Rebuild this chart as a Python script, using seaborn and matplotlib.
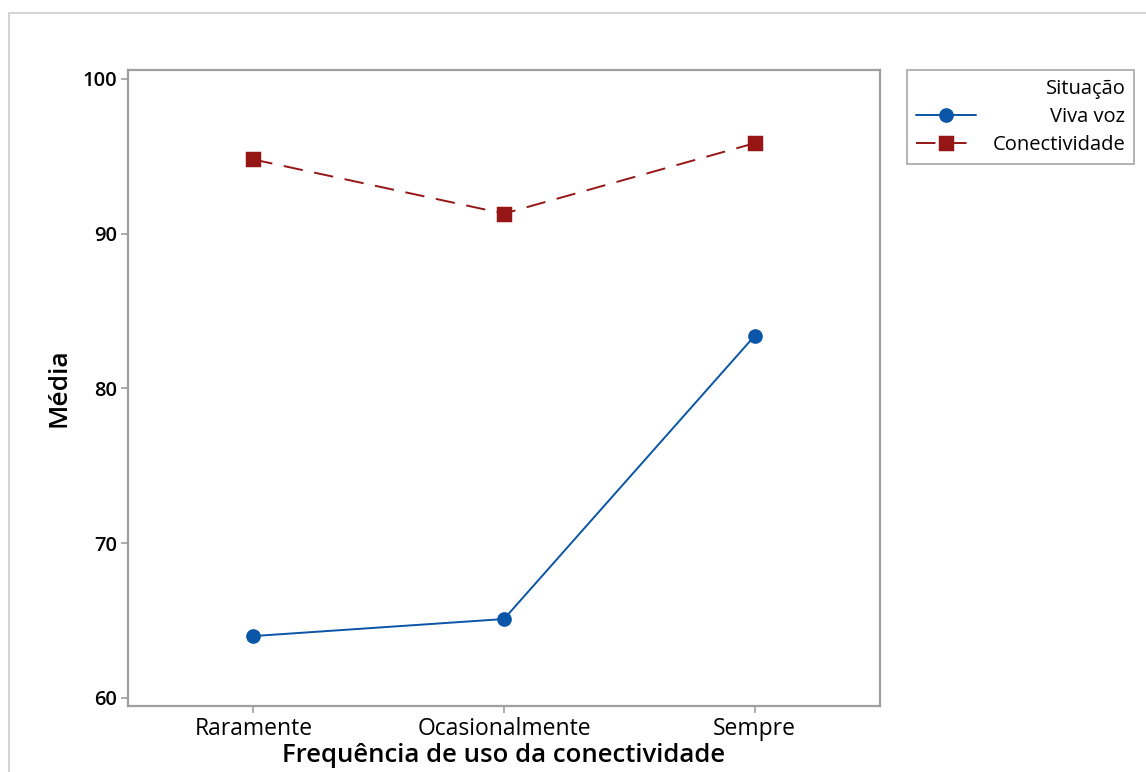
import matplotlib
matplotlib.use("Agg")
import matplotlib.pyplot as plt
import seaborn as sns
import pandas as pd
from matplotlib.patches import Rectangle

categories = ["Raramente", "Ocasionalmente", "Sempre"]
viva_voz = [64.0, 65.1, 83.4]
conectividade = [94.8, 91.3, 95.85]
series_names = ["Viva voz", "Conectividade"]
yticks = [60, 70, 80, 90, 100]

df = pd.DataFrame({
    "freq": categories * 2,
    "media": viva_voz + conectividade,
    "sit": [series_names[0]] * 3 + [series_names[1]] * 3,
})

sns.set_style("white")
plt.rcParams["font.family"] = ["Open Sans", "DejaVu Sans"]
plt.rcParams["text.color"] = "black"
plt.rcParams["axes.labelcolor"] = "black"
plt.rcParams["xtick.color"] = "black"
plt.rcParams["ytick.color"] = "black"

fig = plt.figure(figsize=(11.46, 7.72), dpi=100)
ax = fig.add_axes([128 / 1146, 66 / 772, 752 / 1146, 636 / 772])

blue = "#0a55a8"
red = "#961616"
sns.pointplot(data=df, x="freq", y="media", hue="sit", order=categories,
              hue_order=series_names, palette=[blue, red], markers=["o", "s"],
              linestyles=["-", "--"], errorbar=None, ax=ax, markersize=9.5,
              linewidth=1.4)

for line in ax.lines:
    if line.get_linestyle() == "--":
        line.set_dashes((10, 6))

ax.set_xlim(-0.5, 2.5)
ax.set_ylim(59.48, 100.58)
ax.set_yticks(yticks)
ax.set_yticklabels([str(v) for v in yticks], fontsize=14.5, fontweight="semibold")
ax.set_xticks(range(len(categories)))
ax.set_xticklabels(categories, fontsize=16.5)
ax.tick_params(axis="both", direction="out", length=5, width=1.2, color="#a0a0a0",
               bottom=True, left=True, labelcolor="black")
ax.tick_params(axis="x", pad=3)
ax.tick_params(axis="y", pad=3)
for s in ax.spines.values():
    s.set_color("#a0a0a0")
    s.set_linewidth(1.6)

ax.set_xlabel("Frequência de uso da conectividade", fontsize=18.5, fontweight="semibold",
              labelpad=1.5)
ax.set_ylabel("Média", fontsize=19, fontweight="semibold", labelpad=8)

handles, labels = ax.get_legend_handles_labels()
if ax.legend_:
    ax.legend_.remove()
leg = ax.legend(handles, labels, title="Situação", loc="upper left",
                bbox_to_anchor=(907 / 1146, 702 / 772), bbox_transform=fig.transFigure,
                frameon=True, fancybox=False, edgecolor="#a0a0a0",
                fontsize=14.5, title_fontsize=14.5, handlelength=3.0,
                borderaxespad=0, borderpad=0.45, labelspacing=0.4,
                alignment="right", handletextpad=0.8)
leg.get_frame().set_linewidth(1.4)
leg.get_title().set_color("black")

# right-align the legend labels
fig.canvas.draw()
renderer = fig.canvas.get_renderer()
texts = leg.get_texts()
widths = [t.get_window_extent(renderer).width for t in texts]
wmax = max(widths)
for t, w in zip(texts, widths):
    t.set_position((wmax - w, 0))
    t.set_color("black")

fig.patches.append(Rectangle((9 / 1146, -0.1), 1.2, (759 / 772) + 0.1,
                             transform=fig.transFigure, fill=False,
                             edgecolor="#cccccc", linewidth=1.2))

fig.savefig("out.png", dpi=100)
